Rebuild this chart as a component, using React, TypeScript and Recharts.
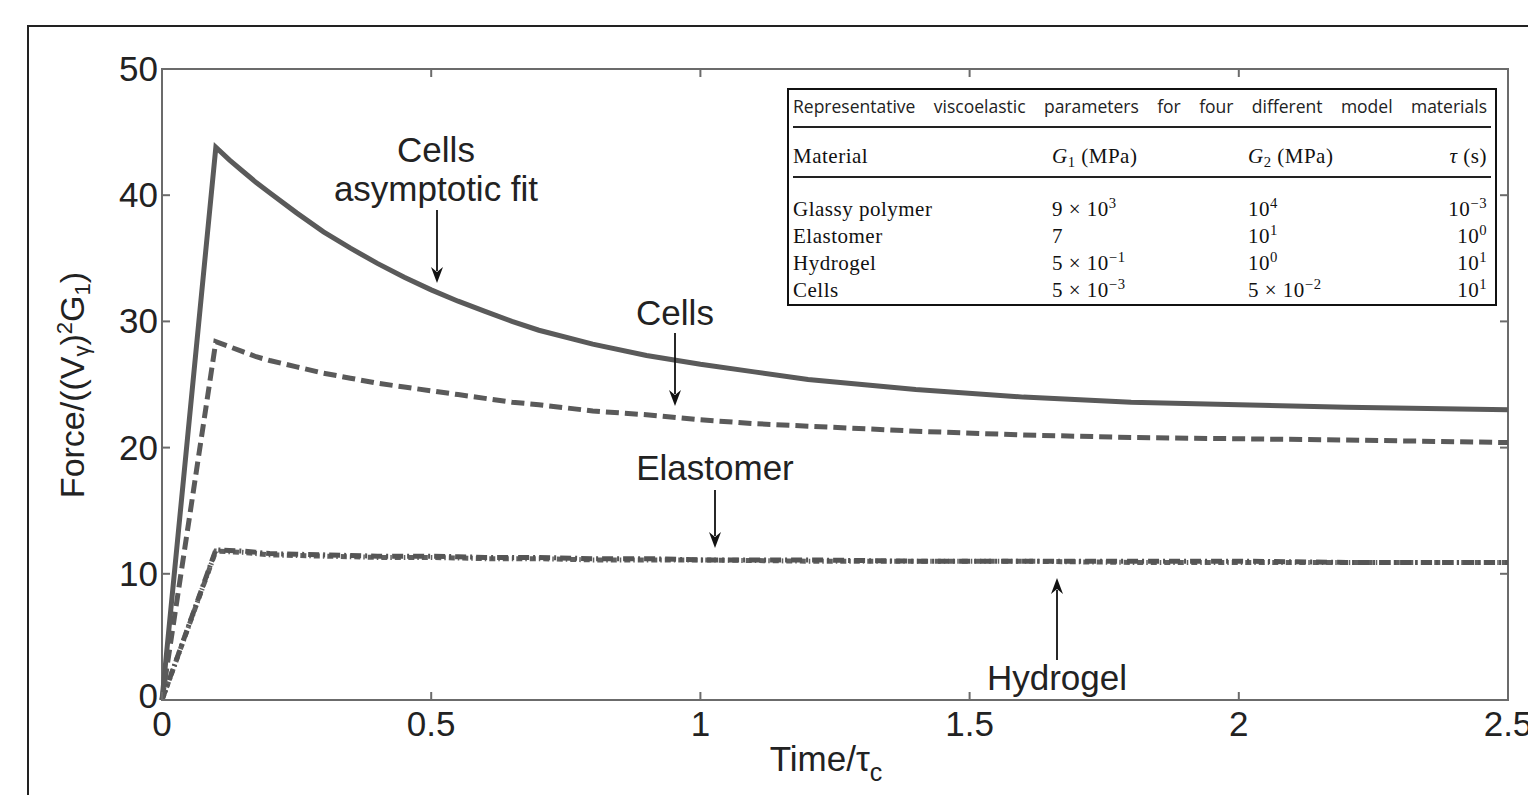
import { Line, LineChart, ReferenceArea, XAxis, YAxis } from "recharts";

const timePoints = [0, 0.1, 0.125, 0.15, 0.175, 0.2, 0.25, 0.3, 0.35, 0.4, 0.45, 0.5, 0.55, 0.6, 0.65, 0.7, 0.8, 0.9, 1.0, 1.1, 1.2, 1.4, 1.6, 1.8, 2.0, 2.2, 2.5];
const fitValues = [0, 43.8, 42.8, 41.9, 41.0, 40.2, 38.6, 37.1, 35.8, 34.6, 33.5, 32.5, 31.6, 30.8, 30.0, 29.3, 28.2, 27.3, 26.6, 26.0, 25.4, 24.6, 24.0, 23.6, 23.4, 23.2, 23.0];
const cellsValues = [0, 28.4, 28.0, 27.6, 27.2, 26.9, 26.4, 25.9, 25.5, 25.1, 24.8, 24.5, 24.2, 23.9, 23.6, 23.4, 22.9, 22.6, 22.2, 21.9, 21.7, 21.3, 21.0, 20.8, 20.7, 20.6, 20.4];
const elastomerValues = [0, 11.9, 11.85, 11.8, 11.7, 11.6, 11.55, 11.5, 11.45, 11.4, 11.4, 11.4, 11.35, 11.3, 11.3, 11.3, 11.2, 11.2, 11.1, 11.1, 11.1, 11.0, 11.0, 11.0, 11.0, 10.9, 10.9];
const hydrogelValues = [0, 11.8, 11.75, 11.7, 11.6, 11.5, 11.45, 11.4, 11.35, 11.3, 11.3, 11.3, 11.25, 11.2, 11.2, 11.2, 11.1, 11.1, 11.1, 11.05, 11.0, 11.0, 11.0, 10.9, 10.9, 10.9, 10.9];

const xTicks = [0, 0.5, 1, 1.5, 2, 2.5];
const yTicks = [0, 10, 20, 30, 40, 50];

const tableTitle = "Representative viscoelastic parameters for four different model materials";
const materials = ["Glassy polymer", "Elastomer", "Hydrogel", "Cells"];
// [base, exponent]; exponent null means plain number
const g1Values: Array<[string, string | null]> = [["9 × 10", "3"], ["7", null], ["5 × 10", "−1"], ["5 × 10", "−3"]];
const g2Values: Array<[string, string | null]> = [["10", "4"], ["10", "1"], ["10", "0"], ["5 × 10", "−2"]];
const tauValues: Array<[string, string | null]> = [["10", "−3"], ["10", "0"], ["10", "1"], ["10", "1"]];

const data = timePoints.map((t, i) => ({
	t,
	fit: fitValues[i],
	cells: cellsValues[i],
	elastomer: elastomerValues[i],
	hydrogel: hydrogelValues[i],
}));

const W = 1528;
const H = 795;
const PLOT_TOP = 69;
const PLOT_BOTTOM = 700;
const PLOT_LEFT = 162;
const PLOT_RIGHT = 1508;
const AXIS = "#6b6b6b";
const INK = "#222";
const LINE = "#5a5a5a";
const SANS = "'Liberation Sans', Arial, sans-serif";
const SERIF = "'Liberation Serif', 'Times New Roman', serif";
const FS = 35;

function XTick(props: any) {
	const { x, payload } = props;
	return (
		<g>
			<line x1={x} x2={x} y1={PLOT_BOTTOM} y2={PLOT_BOTTOM - 8} stroke={AXIS} strokeWidth={2} />
			<line x1={x} x2={x} y1={PLOT_TOP} y2={PLOT_TOP + 8} stroke={AXIS} strokeWidth={2} />
			<text x={x} y={PLOT_BOTTOM + 36} textAnchor="middle" fontSize={FS} fontFamily={SANS} fill={INK}>
				{payload.value}
			</text>
		</g>
	);
}

function YTick(props: any) {
	const { y, payload } = props;
	return (
		<g>
			<line x1={PLOT_LEFT} x2={PLOT_LEFT + 8} y1={y} y2={y} stroke={AXIS} strokeWidth={2} />
			<line x1={PLOT_RIGHT - 8} x2={PLOT_RIGHT} y1={y} y2={y} stroke={AXIS} strokeWidth={2} />
			<text x={PLOT_LEFT - 4} y={payload.value === 0 ? y + 8 : y + 12} textAnchor="end" fontSize={FS} fontFamily={SANS} fill={INK}>
				{payload.value}
			</text>
		</g>
	);
}

function Arrow({ x, y1, y2 }: { x: number; y1: number; y2: number }) {
	const dir = y2 > y1 ? 1 : -1;
	return (
		<g>
			<line x1={x} x2={x} y1={y1} y2={y2 - dir * 12} stroke="#111" strokeWidth={1.8} />
			<path d={`M${x - 6},${y2 - dir * 16} L${x},${y2} L${x + 6},${y2 - dir * 16} L${x},${y2 - dir * 11} Z`} fill="#111" />
		</g>
	);
}

function Pow({ v }: { v: [string, string | null] }) {
	return (
		<span>
			{v[0]}
			{v[1] && <span style={{ fontSize: "70%", position: "relative", top: "-0.55em" }}>{v[1]}</span>}
		</span>
	);
}

function Sub({ s }: { s: string }) {
	return <span style={{ fontSize: "70%", position: "relative", top: "0.25em" }}>{s}</span>;
}

function ParamTable() {
	const rowTop = (i: number) => 194 + i * 27 - 88;
	const cell: React.CSSProperties = { position: "absolute", fontFamily: SERIF, fontSize: 21, letterSpacing: 0.5, color: "#111", whiteSpace: "nowrap", lineHeight: "27px" };
	return (
		<div style={{ position: "absolute", left: 787, top: 88, width: 706, height: 214, border: "2px solid #111", background: "#fff" }}>
			<div style={{ position: "absolute", left: 4, right: 8, top: 4, fontFamily: "'Open Sans', sans-serif", fontSize: 17.5, color: "#222", textAlign: "justify", textAlignLast: "justify" }}>
				{tableTitle}
			</div>
			<div style={{ position: "absolute", left: 4, right: 4, top: 36, height: 0, borderTop: "2.5px solid #222" }} />
			<div style={{ ...cell, left: 4, top: 53 }}>Material</div>
			<div style={{ ...cell, left: 263, top: 53 }}><i>G</i><Sub s="1" /> (MPa)</div>
			<div style={{ ...cell, left: 459, top: 53 }}><i>G</i><Sub s="2" /> (MPa)</div>
			<div style={{ ...cell, right: 8, top: 53 }}><i>τ</i> (s)</div>
			<div style={{ position: "absolute", left: 4, right: 4, top: 86, height: 0, borderTop: "2px solid #222" }} />
			{materials.map((m, i) => (
				<div key={m}>
					<div style={{ ...cell, left: 4, top: rowTop(i) }}>{m}</div>
					<div style={{ ...cell, left: 263, top: rowTop(i) }}><Pow v={g1Values[i]} /></div>
					<div style={{ ...cell, left: 459, top: rowTop(i) }}><Pow v={g2Values[i]} /></div>
					<div style={{ ...cell, right: 8, top: rowTop(i) }}><Pow v={tauValues[i]} /></div>
				</div>
			))}
		</div>
	);
}

export default function App() {
	return (
		<div style={{ position: "fixed", left: 0, top: 0, width: W, height: H, overflow: "hidden", background: "#fff" }}>
			<div style={{ position: "absolute", left: 27, top: 25, width: 2000, height: 2000, borderTop: "2px solid #222", borderLeft: "2px solid #222" }} />
			<div style={{ position: "absolute", left: 0, top: 0 }}>
				<LineChart width={W} height={H} data={data} margin={{ top: PLOT_TOP, right: W - PLOT_RIGHT, bottom: 0, left: 0 }}>
					<XAxis
						dataKey="t"
						type="number"
						domain={[0, 2.5]}
						ticks={xTicks}
						height={H - PLOT_BOTTOM}
						axisLine={false}
						tickLine={false}
						tick={<XTick />}
						interval={0}
					/>
					<YAxis
						type="number"
						domain={[0, 50]}
						ticks={yTicks}
						width={PLOT_LEFT}
						axisLine={false}
						tickLine={false}
						tick={<YTick />}
						interval={0}
					/>
					<ReferenceArea x1={0} x2={2.5} y1={0} y2={50} fill="none" fillOpacity={0} stroke={AXIS} strokeWidth={2} />
					<Line type="linear" dataKey="hydrogel" stroke="#606060" strokeWidth={5} strokeDasharray="6 3 1.5 3" dot={false} activeDot={false} isAnimationActive={false} />
					<Line type="linear" dataKey="elastomer" stroke="#555" strokeWidth={5} strokeDasharray="11 4 2 4" dot={false} activeDot={false} isAnimationActive={false} />
					<Line type="linear" dataKey="cells" stroke={LINE} strokeWidth={5} strokeDasharray="13 6" dot={false} activeDot={false} isAnimationActive={false} />
					<Line type="linear" dataKey="fit" stroke={LINE} strokeWidth={5} dot={false} activeDot={false} isAnimationActive={false} />
				</LineChart>
			</div>
			<svg width={W} height={H} style={{ position: "absolute", left: 0, top: 0, pointerEvents: "none" }}>
				<g fontFamily={SANS} fontSize={FS} fill={INK} textAnchor="middle">
					<text x={436} y={162}>Cells</text>
					<text x={436} y={201}>asymptotic fit</text>
					<text x={675} y={325}>Cells</text>
					<text x={715} y={480}>Elastomer</text>
					<text x={1057} y={690}>Hydrogel</text>
				</g>
				<Arrow x={437} y1={210} y2={283} />
				<Arrow x={675} y1={333} y2={406} />
				<Arrow x={715} y1={490} y2={548} />
				<Arrow x={1057} y1={660} y2={578} />
				<text x={826} y={771} textAnchor="middle" fontFamily={SANS} fontSize={FS} fill={INK}>
					Time/τ<tspan fontSize={25} dy={10}>c</tspan>
				</text>
				<text transform="translate(84,385) rotate(-90)" textAnchor="middle" fontFamily={SANS} fontSize={34} fill={INK}>
					Force/((V<tspan fontSize={22} dy={5}>γ</tspan>
					<tspan dy={-5}>)</tspan>
					<tspan fontSize={22} dy={-12}>2</tspan>
					<tspan dy={12}>G</tspan>
					<tspan fontSize={22} dy={6}>1</tspan>
					<tspan dy={-6}>)</tspan>
				</text>
			</svg>
			<ParamTable />
		</div>
	);
}
